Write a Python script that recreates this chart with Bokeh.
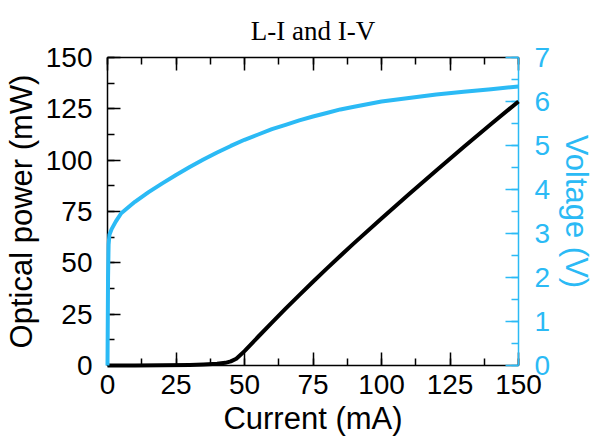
from bokeh.plotting import figure
from bokeh.models import Range1d, LinearAxis, SingleIntervalTicker, ColumnDataSource, Title
from bokeh.embed import file_html
from bokeh.resources import INLINE

# L-I data: current (mA) vs optical power (mW)
li_current = [0, 10, 20, 30, 35, 40, 43, 45, 47, 48, 50, 55, 60, 65, 70, 75, 80, 86, 90, 100, 110, 120, 130, 140, 150]
li_power = [0, 0.05, 0.1, 0.3, 0.5, 0.8, 1.3, 2.0, 3.3, 4.5, 7.0, 14.0, 20.9, 27.7, 34.3, 40.8, 47.2, 54.7, 59.6, 71.6, 83.4, 95.0, 106.4, 117.6, 128.6]

# I-V data: current (mA) vs voltage (V)
iv_current = [0, 0.2, 0.4, 0.7, 1.5, 3, 5, 10, 15, 20, 25, 30, 35, 40, 45, 50, 55, 60, 65, 70, 75, 80, 85, 90, 100, 110, 120, 130, 140, 150]
iv_voltage = [0, 2.0, 2.75, 2.97, 3.10, 3.27, 3.46, 3.72, 3.94, 4.14, 4.33, 4.51, 4.68, 4.84, 4.99, 5.13, 5.25, 5.37, 5.47, 5.57, 5.66, 5.74, 5.82, 5.88, 6.00, 6.08, 6.16, 6.22, 6.28, 6.34]

x_ticks_interval = 25
y_ticks_interval = 25
v_ticks_interval = 1

TITLE = "L-I and I-V"
BLUE = "#2BBAF5"
FONT = "Liberation Sans"

p = figure(width=597, height=441, output_backend="svg", toolbar_location=None,
           x_range=Range1d(0, 150), y_range=Range1d(0, 150),
           x_axis_location=None, y_axis_location=None,
           min_border_left=107, min_border_right=72, min_border_top=57, min_border_bottom=76)
p.extra_y_ranges = {"v": Range1d(0, 7)}
p.grid.visible = False
p.outline_line_color = None
p.background_fill_color = "white"
p.border_fill_color = "white"

def style(ax, color, ticker):
    ax.ticker = ticker
    ax.axis_line_color = color
    ax.axis_line_width = 1.5
    ax.major_tick_line_color = color
    ax.minor_tick_line_color = color
    ax.major_tick_line_width = 1.5
    ax.minor_tick_line_width = 1.5
    ax.major_tick_in = 13
    ax.major_tick_out = 0
    ax.minor_tick_in = 7
    ax.minor_tick_out = 0
    ax.major_label_text_color = color
    ax.major_label_text_font = FONT
    ax.major_label_text_font_size = "28px"
    ax.axis_label_text_color = color
    ax.axis_label_text_font = FONT
    ax.axis_label_text_font_size = "31px"
    ax.axis_label_text_font_style = "normal"

xb = LinearAxis(axis_label="Current (mA)")
style(xb, "black", SingleIntervalTicker(interval=x_ticks_interval, num_minor_ticks=2))
xb.major_label_standoff = 9
xb.axis_label_standoff = 4
p.add_layout(xb, "below")

xt = LinearAxis()
style(xt, "black", SingleIntervalTicker(interval=x_ticks_interval, num_minor_ticks=2))
xt.major_label_text_color = None
xt.major_label_text_font_size = "1px"
xt.major_label_standoff = 0
p.add_layout(xt, "above")

yl = LinearAxis(axis_label="Optical power (mW)")
style(yl, "black", SingleIntervalTicker(interval=y_ticks_interval, num_minor_ticks=2))
yl.major_label_standoff = 15
yl.axis_label_standoff = 4
p.add_layout(yl, "left")

yr = LinearAxis(axis_label="Voltage (V)", y_range_name="v")
style(yr, BLUE, SingleIntervalTicker(interval=v_ticks_interval, num_minor_ticks=2))
yr.major_label_standoff = 16
yr.axis_label_standoff = 6
p.add_layout(yr, "right")

title = Title(text=TITLE, align="center", vertical_align="top", text_font="Liberation Serif",
              text_font_size="27px", text_font_style="normal", text_color="black",
              standoff=20, offset=-7)
p.add_layout(title, "above")

li = ColumnDataSource(dict(x=li_current, y=li_power))
iv = ColumnDataSource(dict(x=iv_current, y=iv_voltage))
r1 = p.line("x", "y", source=li, line_color="black", line_width=4, line_join="round")
r2 = p.line("x", "y", source=iv, line_color=BLUE, line_width=4, line_join="round", y_range_name="v")
r1.level = "overlay"
r2.level = "overlay"

open("out.html", "w").write(file_html(p, INLINE))
